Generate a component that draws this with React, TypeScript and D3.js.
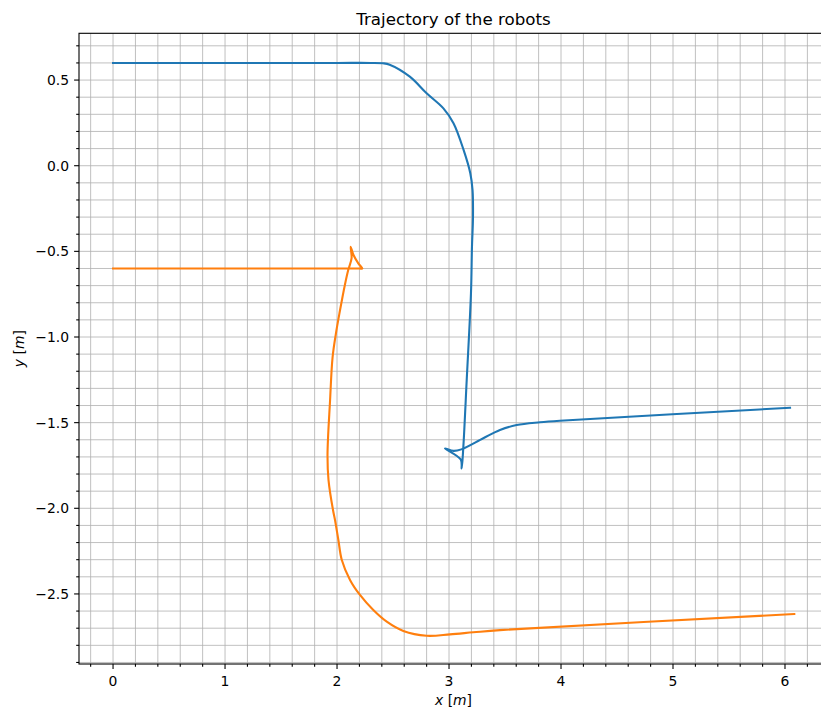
import * as d3 from 'd3';
import { useEffect, useRef } from 'react';

// trajectory of robot 1 (blue)
const blueX = [0, 1.0, 2.0, 2.3, 2.41, 2.47, 2.65, 2.8, 2.95, 3.04, 3.13, 3.19, 3.21, 3.214, 3.205, 3.196, 3.158, 3.128, 3.113, 3.105, 2.964, 3.04, 3.11, 3.306, 3.455, 3.604, 3.8125, 3.99, 6.045];
const blueY = [0.6, 0.6, 0.6, 0.6, 0.598, 0.59, 0.52, 0.423, 0.335, 0.248, 0.092, -0.044, -0.142, -0.298, -0.473, -0.745, -1.251, -1.64, -1.767, -1.715, -1.65, -1.665, -1.656, -1.591, -1.543, -1.514, -1.498, -1.489, -1.413];

// trajectory of robot 2 (orange)
const orangeX = [0, 1.0, 2.0, 2.2, 2.226, 2.19, 2.146, 2.122, 2.13, 2.1, 2.07, 2.025, 1.99, 1.96, 1.938, 1.915, 1.924, 1.964, 1.982, 2.012, 2.042, 2.116, 2.205, 2.324, 2.444, 2.592, 2.8, 3.009, 3.217, 3.455, 6.083];
const orangeY = [-0.6, -0.6, -0.6, -0.6, -0.6, -0.57, -0.52, -0.473, -0.54, -0.609, -0.696, -0.85, -0.98, -1.12, -1.368, -1.689, -1.835, -2.01, -2.068, -2.185, -2.3, -2.418, -2.506, -2.594, -2.662, -2.716, -2.744, -2.736, -2.724, -2.711, -2.617];

const xMajorTicks = [0, 1, 2, 3, 4, 5, 6];
const yMajorTicks = [0.5, 0.0, -0.5, -1.0, -1.5, -2.0, -2.5];
const chartTitle = 'Trajectory of the robots';

export default function App() {
  const ref = useRef(null);

  useEffect(() => {
    const width = 821;
    const height = 713;
    const svg = d3.select(ref.current);
    svg.selectAll('*').remove();
    svg.attr('width', width).attr('height', height);

    const left = 79, top = 33.3, right = 828, bottom = 664;
    const font = 'DejaVu Sans, sans-serif';

    const x = d3.scaleLinear().domain([-0.304, 6.384]).range([left, right]);
    const y = d3.scaleLinear().domain([-2.909, 0.773]).range([bottom, top]);

    const [x0, x1] = x.domain();
    const [y0, y1] = y.domain();
    const xMinor = d3.range(-15, 35).map((i) => +(i * 0.2).toFixed(2)).filter((v) => v >= x0 && v <= x1);
    const yMinor = d3.range(-30, 10).map((i) => +(i * 0.1).toFixed(2)).filter((v) => v >= y0 && v <= y1);

    svg.append('rect').attr('width', width).attr('height', height).attr('fill', '#fff');

    // grid (major + minor)
    const grid = svg.append('g').attr('stroke', '#b0b0b0').attr('stroke-width', 0.8);
    grid.selectAll('line.gx')
      .data(xMinor)
      .enter()
      .append('line')
      .attr('x1', (d) => x(d)).attr('x2', (d) => x(d))
      .attr('y1', top).attr('y2', bottom);
    grid.selectAll('line.gy')
      .data(yMinor)
      .enter()
      .append('line')
      .attr('x1', left).attr('x2', right)
      .attr('y1', (d) => y(d)).attr('y2', (d) => y(d));

    // trajectories
    const line = d3.line()
      .x((d) => x(d[0]))
      .y((d) => y(d[1]))
      .curve(d3.curveCatmullRom.alpha(0.5));

    const blue = blueX.map((v, i) => [v, blueY[i]]);
    const orange = orangeX.map((v, i) => [v, orangeY[i]]);

    svg.append('path').datum(blue)
      .attr('fill', 'none').attr('stroke', '#1f77b4').attr('stroke-width', 2.1)
      .attr('stroke-linejoin', 'round').attr('stroke-linecap', 'square')
      .attr('d', line);
    svg.append('path').datum(orange)
      .attr('fill', 'none').attr('stroke', '#ff7f0e').attr('stroke-width', 2.1)
      .attr('stroke-linejoin', 'round').attr('stroke-linecap', 'square')
      .attr('d', line);

    // spines
    svg.append('rect')
      .attr('x', left).attr('y', top)
      .attr('width', right - left).attr('height', bottom - top)
      .attr('fill', 'none').attr('stroke', '#000').attr('stroke-width', 1.1);

    // ticks
    const ticks = svg.append('g').attr('stroke', '#000').attr('stroke-width', 1.1);
    ticks.selectAll('line.xt')
      .data(xMinor)
      .enter()
      .append('line')
      .attr('x1', (d) => x(d)).attr('x2', (d) => x(d))
      .attr('y1', bottom).attr('y2', (d) => bottom + (xMajorTicks.includes(d) ? 4.9 : 2.8));
    ticks.selectAll('line.yt')
      .data(yMinor)
      .enter()
      .append('line')
      .attr('y1', (d) => y(d)).attr('y2', (d) => y(d))
      .attr('x1', left).attr('x2', (d) => left - (yMajorTicks.some((t) => Math.abs(t - d) < 1e-6) ? 4.9 : 2.8));

    // tick labels
    svg.append('g')
      .selectAll('text')
      .data(xMajorTicks)
      .enter()
      .append('text')
      .attr('x', (d) => x(d))
      .attr('y', 686)
      .attr('text-anchor', 'middle')
      .attr('font-family', font)
      .attr('font-size', '13.9px')
      .attr('fill', '#000')
      .text((d) => d3.format('d')(d));

    svg.append('g')
      .selectAll('text')
      .data(yMajorTicks)
      .enter()
      .append('text')
      .attr('x', 69)
      .attr('y', (d) => y(d))
      .attr('dy', '0.36em')
      .attr('text-anchor', 'end')
      .attr('font-family', font)
      .attr('font-size', '13.9px')
      .attr('fill', '#000')
      .text((d) => d3.format('.1f')(d));

    // title
    svg.append('text')
      .attr('x', (left + right) / 2)
      .attr('y', 25)
      .attr('text-anchor', 'middle')
      .attr('font-family', font)
      .attr('font-size', '16.7px')
      .attr('fill', '#000')
      .text(chartTitle);

    // axis labels
    const xl = svg.append('text')
      .attr('x', (left + right) / 2)
      .attr('y', 705)
      .attr('text-anchor', 'middle')
      .attr('font-family', font)
      .attr('font-size', '13.9px')
      .attr('fill', '#000');
    xl.append('tspan').attr('font-style', 'italic').text('x');
    xl.append('tspan').text(' [');
    xl.append('tspan').attr('font-style', 'italic').text('m');
    xl.append('tspan').text(']');

    const yl = svg.append('text')
      .attr('transform', `translate(24,${(top + bottom) / 2}) rotate(-90)`)
      .attr('text-anchor', 'middle')
      .attr('font-family', font)
      .attr('font-size', '13.9px')
      .attr('fill', '#000');
    yl.append('tspan').attr('font-style', 'italic').text('y');
    yl.append('tspan').text(' [');
    yl.append('tspan').attr('font-style', 'italic').text('m');
    yl.append('tspan').text(']');
  }, []);

  return (
    <svg ref={ref} style={{ position: 'absolute', left: 0, top: 0, display: 'block' }}></svg>
  );
}
